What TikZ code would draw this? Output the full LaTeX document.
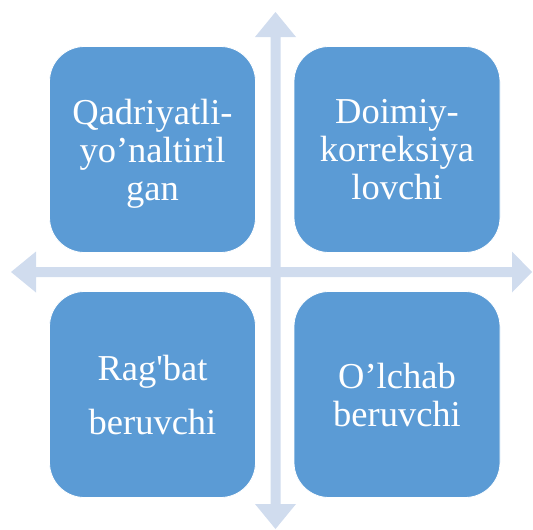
\documentclass[tikz,border=0pt]{standalone}
\usepackage{fontspec}
\newfontfamily\quadfont{Liberation Serif}[Ligatures=Common]
\definecolor{boxblue}{RGB}{91,155,213}
\definecolor{axisblue}{RGB}{208,220,238}
\begin{document}
\begin{tikzpicture}[x=1pt,y=-1pt,
	quad/.style={fill=boxblue,draw=white,line width=0.8pt,rounded corners=35pt,
		minimum width=206pt,minimum height=206pt,inner sep=0pt,text=white,
		text depth=0pt,align=center,font=\quadfont\fontsize{36.5}{38}\selectfont}]
				\useasboundingbox (0,0) rectangle (533,530);
				% the two double arrows
				\fill [axisblue] (11,272) -- (36,251.5) -- (36,267) -- (270.5,267) -- (270.5,37)
					-- (255,37) -- (275.5,12) -- (296,37) -- (280.5,37) -- (280.5,267)
					-- (512,267) -- (512,251.5) -- (532,272) -- (512,292.5) -- (512,277)
					-- (280.5,277) -- (280.5,504) -- (296,504) -- (275.5,529) -- (255,504)
					-- (270.5,504) -- (270.5,277) -- (36,277) -- (36,292.5) -- cycle;
				% quadrants
				\node [quad] (valued) at (152.5,149.5) {Qadriyatli-\\yo’naltiril\\gan};
				\node [quad] (correct) at (397,149.5) {Doimiy-\\korreksiya\\lovchi};
				\node [quad] (motive) at (152.5,394.5) {Rag\symbol{39}bat\\[16pt]beruvchi};
				\node [quad] (measure) at (397,394.5) {O’lchab\\beruvchi};
			\end{tikzpicture}
\end{document}
